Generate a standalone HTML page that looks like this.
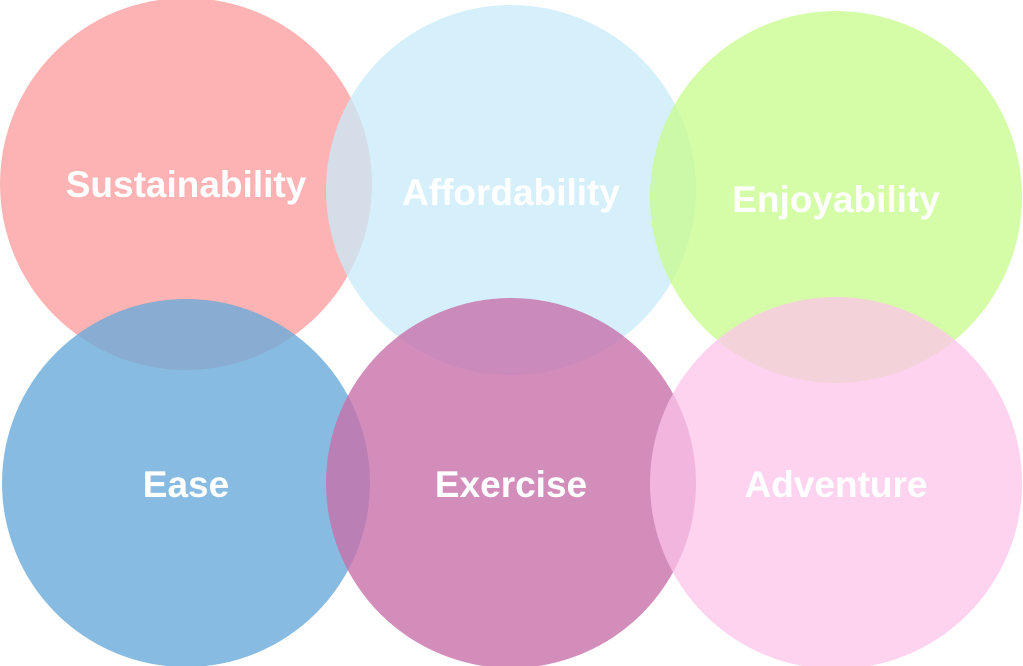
<!DOCTYPE html>
<html><head><meta charset="utf-8"><style>
html,body{margin:0;padding:0;background:#fff;}
svg{display:block;}
text{font-family:"Liberation Sans",sans-serif;font-weight:bold;font-size:37px;fill:#fff;text-anchor:middle;}
</style></head><body>
<svg width="1023" height="666" viewBox="0 0 1023 666">
<circle cx="186" cy="184" r="186" fill="rgb(252,154,154)" fill-opacity="0.75"/>
<circle cx="511" cy="190" r="185" fill="rgb(199,235,250)" fill-opacity="0.75"/>
<circle cx="836" cy="197" r="186" fill="rgb(199,252,139)" fill-opacity="0.75"/>
<circle cx="186" cy="483" r="184" fill="rgb(106,170,218)" fill-opacity="0.8"/>
<circle cx="511" cy="483" r="185" fill="rgb(199,112,170)" fill-opacity="0.8"/>
<circle cx="836" cy="483" r="186" fill="rgb(252,196,234)" fill-opacity="0.75"/>
<text x="186" y="197">Sustainability</text>
<text x="511" y="205">Affordability</text>
<text x="836" y="212">Enjoyability</text>
<text x="186" y="497">Ease</text>
<text x="511" y="497">Exercise</text>
<text x="836" y="497">Adventure</text>
</svg>
</body></html>
